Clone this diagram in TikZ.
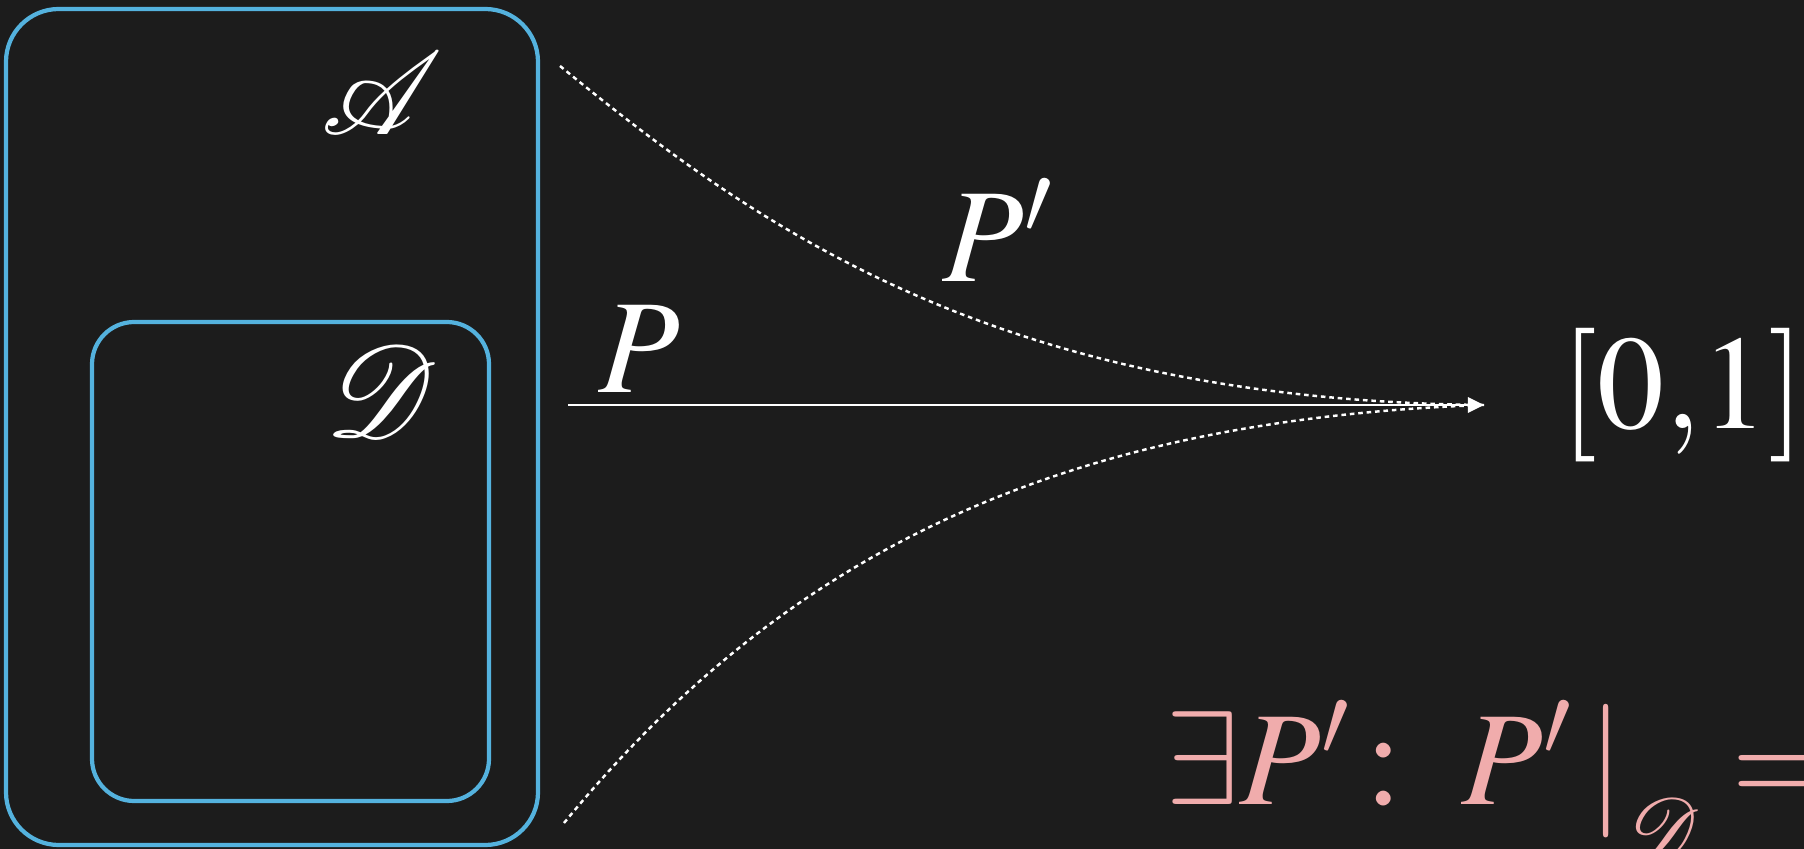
\documentclass[tikz,border=0pt]{standalone}
\usepackage{mathptmx}
\usepackage{mathrsfs}
\usetikzlibrary{arrows.meta}
\DeclareFontFamily{U}{rsfsbig}{\skewchar\font127 }
\DeclareFontShape{U}{rsfsbig}{m}{n}{<-> s*[0.88] rsfs10}{}
\DeclareMathAlphabet{\mathbigscr}{U}{rsfsbig}{m}{n}
\definecolor{board}{RGB}{28,28,28}
\definecolor{boxblue}{RGB}{84,178,222}
\definecolor{pinktext}{RGB}{240,172,172}
\tikzset{
  setbox/.style={draw=boxblue, line width=1.2pt},
  bigtext/.style={text=white, inner sep=0pt, font=\fontsize{38}{40}\selectfont},
  mapline/.style={draw=white, line width=0.8pt, -{Triangle[length=4.6pt,width=4.3pt]}},
  dotline/.style={draw=white, line width=0.7pt, dash pattern=on 1.3pt off 1.1pt},
}
\begin{document}
\begin{tikzpicture}[x=0.01cm,y=-0.01cm]
\fill[board] (0,0) rectangle (1804,849);
\useasboundingbox (0,0) rectangle (1804,849);
% sets
\draw[setbox, rounded corners=15pt] (6,9) rectangle (538,845);
\draw[setbox, rounded corners=12pt] (92,322) rectangle (489,801);
\node[bigtext] (A) at (382,93) {$\mathbigscr{A}$};
\node[bigtext] (D) at (382,391) {\scalebox{1.1}{$\mathbigscr{D}$}};
% labels
\node[bigtext, anchor=base west] (P) at (598,392) {$P$};
\node[bigtext, anchor=base west] (Pp) at (942,282) {$P'$};
\node[bigtext, anchor=base west] (I) at (1560,428) {$[0{,}1]$};
\node[bigtext, text=pinktext, anchor=base west] (E) at (1165,804)
  {$\exists P'\,{:}\;\; P'\,|_{\lower 10pt\hbox{$\scriptstyle\mathbigscr{D}$}} = $};
% maps
\coordinate (src) at (568,405);
\coordinate (tip) at (1484,405);
\coordinate (up) at (560,66);
\coordinate (lo) at (564,823);
\draw[mapline] (src) -- (tip);
\draw[dotline] (up) .. controls (760,230) and (1000,400) .. (tip);
\draw[dotline] (lo) .. controls (780,560) and (1050,420) .. (tip);
\end{tikzpicture}
\end{document}
